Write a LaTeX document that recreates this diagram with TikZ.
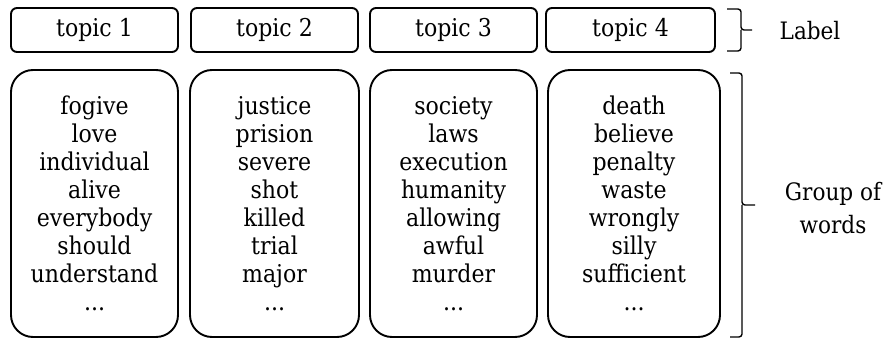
\documentclass[tikz,border=0pt]{standalone}
\usepackage{fontspec}
\setmainfont{DejaVu Serif Condensed}
\begin{document}
\begin{tikzpicture}[x=1pt,y=-1pt,
  labelbox/.style={draw, line width=1.9pt, rounded corners=6pt, inner sep=0pt,
    minimum height=44pt, font=\fontsize{24.5}{28}\selectfont},
  wordbox/.style={draw, line width=1.9pt, rounded corners=22pt, inner sep=0pt,
    minimum height=267pt, align=center, font=\fontsize{24.5}{28}\selectfont},
  bracket/.style={draw, line width=1.4pt, rounded corners=3pt},
  side/.style={font=\fontsize{24}{33}\selectfont, align=center}]
\useasboundingbox (0,0) rectangle (886,339);
% topic labels
\node[labelbox, minimum width=167pt] (t1) at (94.5,30) {topic 1};
\node[labelbox, minimum width=167pt] (t2) at (274.5,30) {topic 2};
\node[labelbox, minimum width=167pt] (t3) at (453.5,30) {topic 3};
\node[labelbox, minimum width=169pt] (t4) at (630.5,30) {topic 4};
% word groups
\node[wordbox, minimum width=167pt] (g1) at (94.5,203.5)
  {fogive\\love\\individual\\alive\\everybody\\should\\understand\\...};
\node[wordbox, minimum width=169pt] (g2) at (274.5,203.5)
  {justice\\prision\\severe\\shot\\killed\\trial\\major\\...};
\node[wordbox, minimum width=167pt] (g3) at (453.5,203.5)
  {society\\laws\\execution\\humanity\\allowing\\awful\\murder\\...};
\node[wordbox, minimum width=172pt] (g4) at (634,203.5)
  {death\\believe\\penalty\\waste\\wrongly\\silly\\sufficient\\...};
% braces
\draw[bracket] (727,9) -- (741,9) -- (741,30) -- (752,30);
\draw[bracket] (741,30) -- (741,51) -- (727,51);
\draw[bracket] (730,73) -- (742,73) -- (742,205) -- (755,205);
\draw[bracket] (742,205) -- (742,337) -- (730,337);
% side captions
\node[side] (lab) at (810,31) {Label};
\node[side] (grp) at (833,208) {Group of\\words};
\end{tikzpicture}
\end{document}
